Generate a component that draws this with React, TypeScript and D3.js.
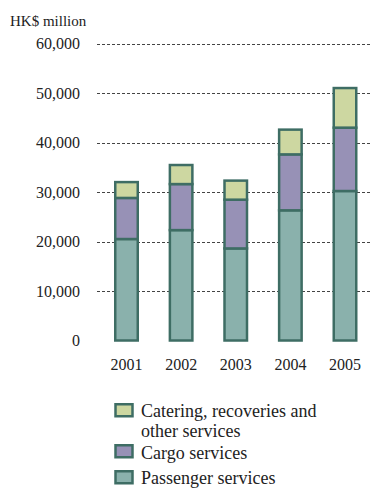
import React from "react";
import * as d3 from "d3";

const years = ["2001", "2002", "2003", "2004", "2005"];
const passenger = [20500, 22300, 18600, 26300, 30200];
const cargo = [8300, 9300, 9850, 11300, 12800];
const catering = [3200, 3850, 3850, 5000, 8000];
const tickValues = [0, 10000, 20000, 30000, 40000, 50000, 60000];
const tickLabels = ["0", "10,000", "20,000", "30,000", "40,000", "50,000", "60,000"];
const seriesKeys = ["passenger", "cargo", "catering"];
const legendLines = [
  ["Catering, recoveries and", "other services"],
  ["Cargo services"],
  ["Passenger services"],
];

const colors: Record<string, string> = {
  passenger: "#8ab1ac",
  cargo: "#9791b6",
  catering: "#cdd7a1",
};
const strokeColor = "#3e6d64";
const font = '"Liberation Serif", "DejaVu Serif", serif';

export default function App() {
  const W = 372;
  const H = 488;
  const y = d3.scaleLinear().domain([0, 60000]).range([340.5, 43.5]);
  const x = d3.scalePoint<string>().domain(years).range([126.5, 345]);
  const barW = 22.5;

  const rows = years.map((yr, i) => ({
    year: yr,
    passenger: passenger[i],
    cargo: cargo[i],
    catering: catering[i],
  }));
  const stacked = d3.stack<any>().keys(seriesKeys)(rows);

  const legendKeys = ["catering", "cargo", "passenger"];
  const legendSquareY = [404.25, 445.25, 471.25];
  const legendBaselines = [[417, 437], [459], [484]];
  const ts = { fontFamily: font } as React.CSSProperties;

  return (
    <svg
      width={W}
      height={H}
      style={{ position: "absolute", left: 0, top: 0, background: "#fff", fontFamily: font }}
    >
      <text x={10} y={26} fontSize={15} fill="#222" style={ts}>
        HK$ million
      </text>
      {tickValues.map((v, i) => (
        <g key={v}>
          <text
            x={80}
            y={y(v)}
            dy="0.35em"
            textAnchor="end"
            fontSize={16}
            fill="#222"
            style={ts}
          >
            {tickLabels[i]}
          </text>
          {v > 0 && (
            <line
              x1={97}
              x2={372}
              y1={Math.round(y(v)) + 0.5}
              y2={Math.round(y(v)) + 0.5}
              stroke="#444"
              strokeWidth={1}
              strokeDasharray="3,2"
            />
          )}
        </g>
      ))}
      {stacked.map((layer) => (
        <g key={layer.key}>
          {layer.map((d, i) => (
            <rect
              key={i}
              x={(x(years[i]) as number) - barW / 2}
              y={y(d[1])}
              width={barW}
              height={y(d[0]) - y(d[1])}
              fill={colors[layer.key]}
              stroke={strokeColor}
              strokeWidth={2.5}
            />
          ))}
        </g>
      ))}
      {years.map((yr) => (
        <text
          key={yr}
          x={x(yr)}
          y={370}
          textAnchor="middle"
          fontSize={16}
          fill="#222"
          style={ts}
        >
          {yr}
        </text>
      ))}
      {legendKeys.map((k, i) => (
        <g key={k}>
          <rect
            x={115.5}
            y={legendSquareY[i]}
            width={17}
            height={12}
            fill={colors[k]}
            stroke={strokeColor}
            strokeWidth={2.5}
          />
          {legendLines[i].map((line, j) => (
            <text
              key={j}
              x={141}
              y={legendBaselines[i][j]}
              fontSize={18}
              fill="#222"
              style={ts}
            >
              {line}
            </text>
          ))}
        </g>
      ))}
    </svg>
  );
}
